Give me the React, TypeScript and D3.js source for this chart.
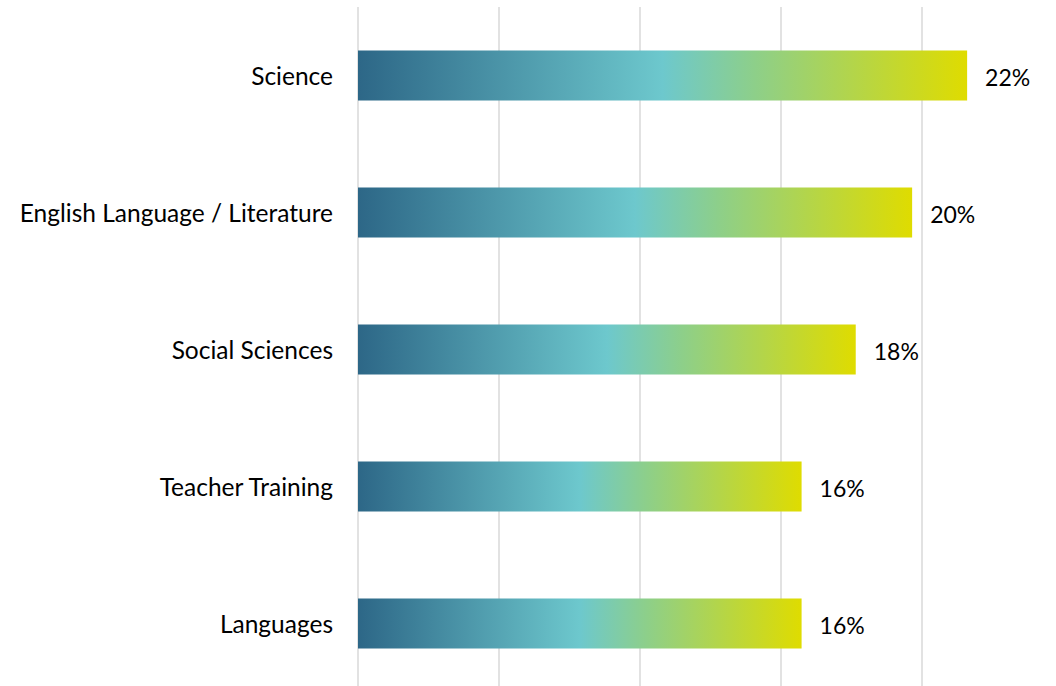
import React from "react";
import * as d3 from "d3";

const categories = ["Science", "English Language / Literature", "Social Sciences", "Teacher Training", "Languages"];
const values = [0.216, 0.1965, 0.1765, 0.1573, 0.1573];
const gridTicks = [0, 0.05, 0.1, 0.15, 0.2];

const W = 1056;
const H = 686;

export default function App() {
  const x = d3.scaleLinear().domain([0, 0.05]).range([358, 499]);
  const y = d3
    .scaleBand<string>()
    .domain(categories)
    .range([7, 692])
    .paddingInner(0.635)
    .paddingOuter(0.3175);
  const fmt = d3.format(".0%");
  const font = "Lato, 'Open Sans', sans-serif";
  return (
    <svg
      width={W}
      height={H}
      style={{ position: "absolute", left: 0, top: 0, display: "block", background: "#fff" }}
    >
      <defs>
        <linearGradient id="barGrad" x1="0" x2="1" y1="0" y2="0">
          <stop offset="0" stopColor="#2d6787" />
          <stop offset="0.5" stopColor="#6dc8cd" />
          <stop offset="0.65" stopColor="#8dcf8a" />
          <stop offset="1" stopColor="#dfdc00" />
        </linearGradient>
      </defs>
      {gridTicks.map((t) => (
        <line
          key={t}
          x1={x(t)}
          x2={x(t)}
          y1={7}
          y2={686}
          stroke="#d9d9d9"
          strokeWidth={1.5}
        />
      ))}
      {categories.map((c, i) => {
        const by = y(c)!;
        const bh = y.bandwidth();
        return (
          <g key={c}>
            <rect x={x(0)} y={by} width={x(values[i]) - x(0)} height={bh} fill="url(#barGrad)" />
            <text
              x={333}
              y={by + bh / 2}
              textAnchor="end"
              dominantBaseline="central"
              fontFamily={font}
              fontSize={24.5}
              fill="#000"
            >
              {c}
            </text>
            <text
              x={x(values[i]) + 18}
              y={by + bh / 2 + 1}
              textAnchor="start"
              dominantBaseline="central"
              fontFamily={font}
              fontSize={23}
              fill="#000"
            >
              {fmt(values[i])}
            </text>
          </g>
        );
      })}
    </svg>
  );
}
